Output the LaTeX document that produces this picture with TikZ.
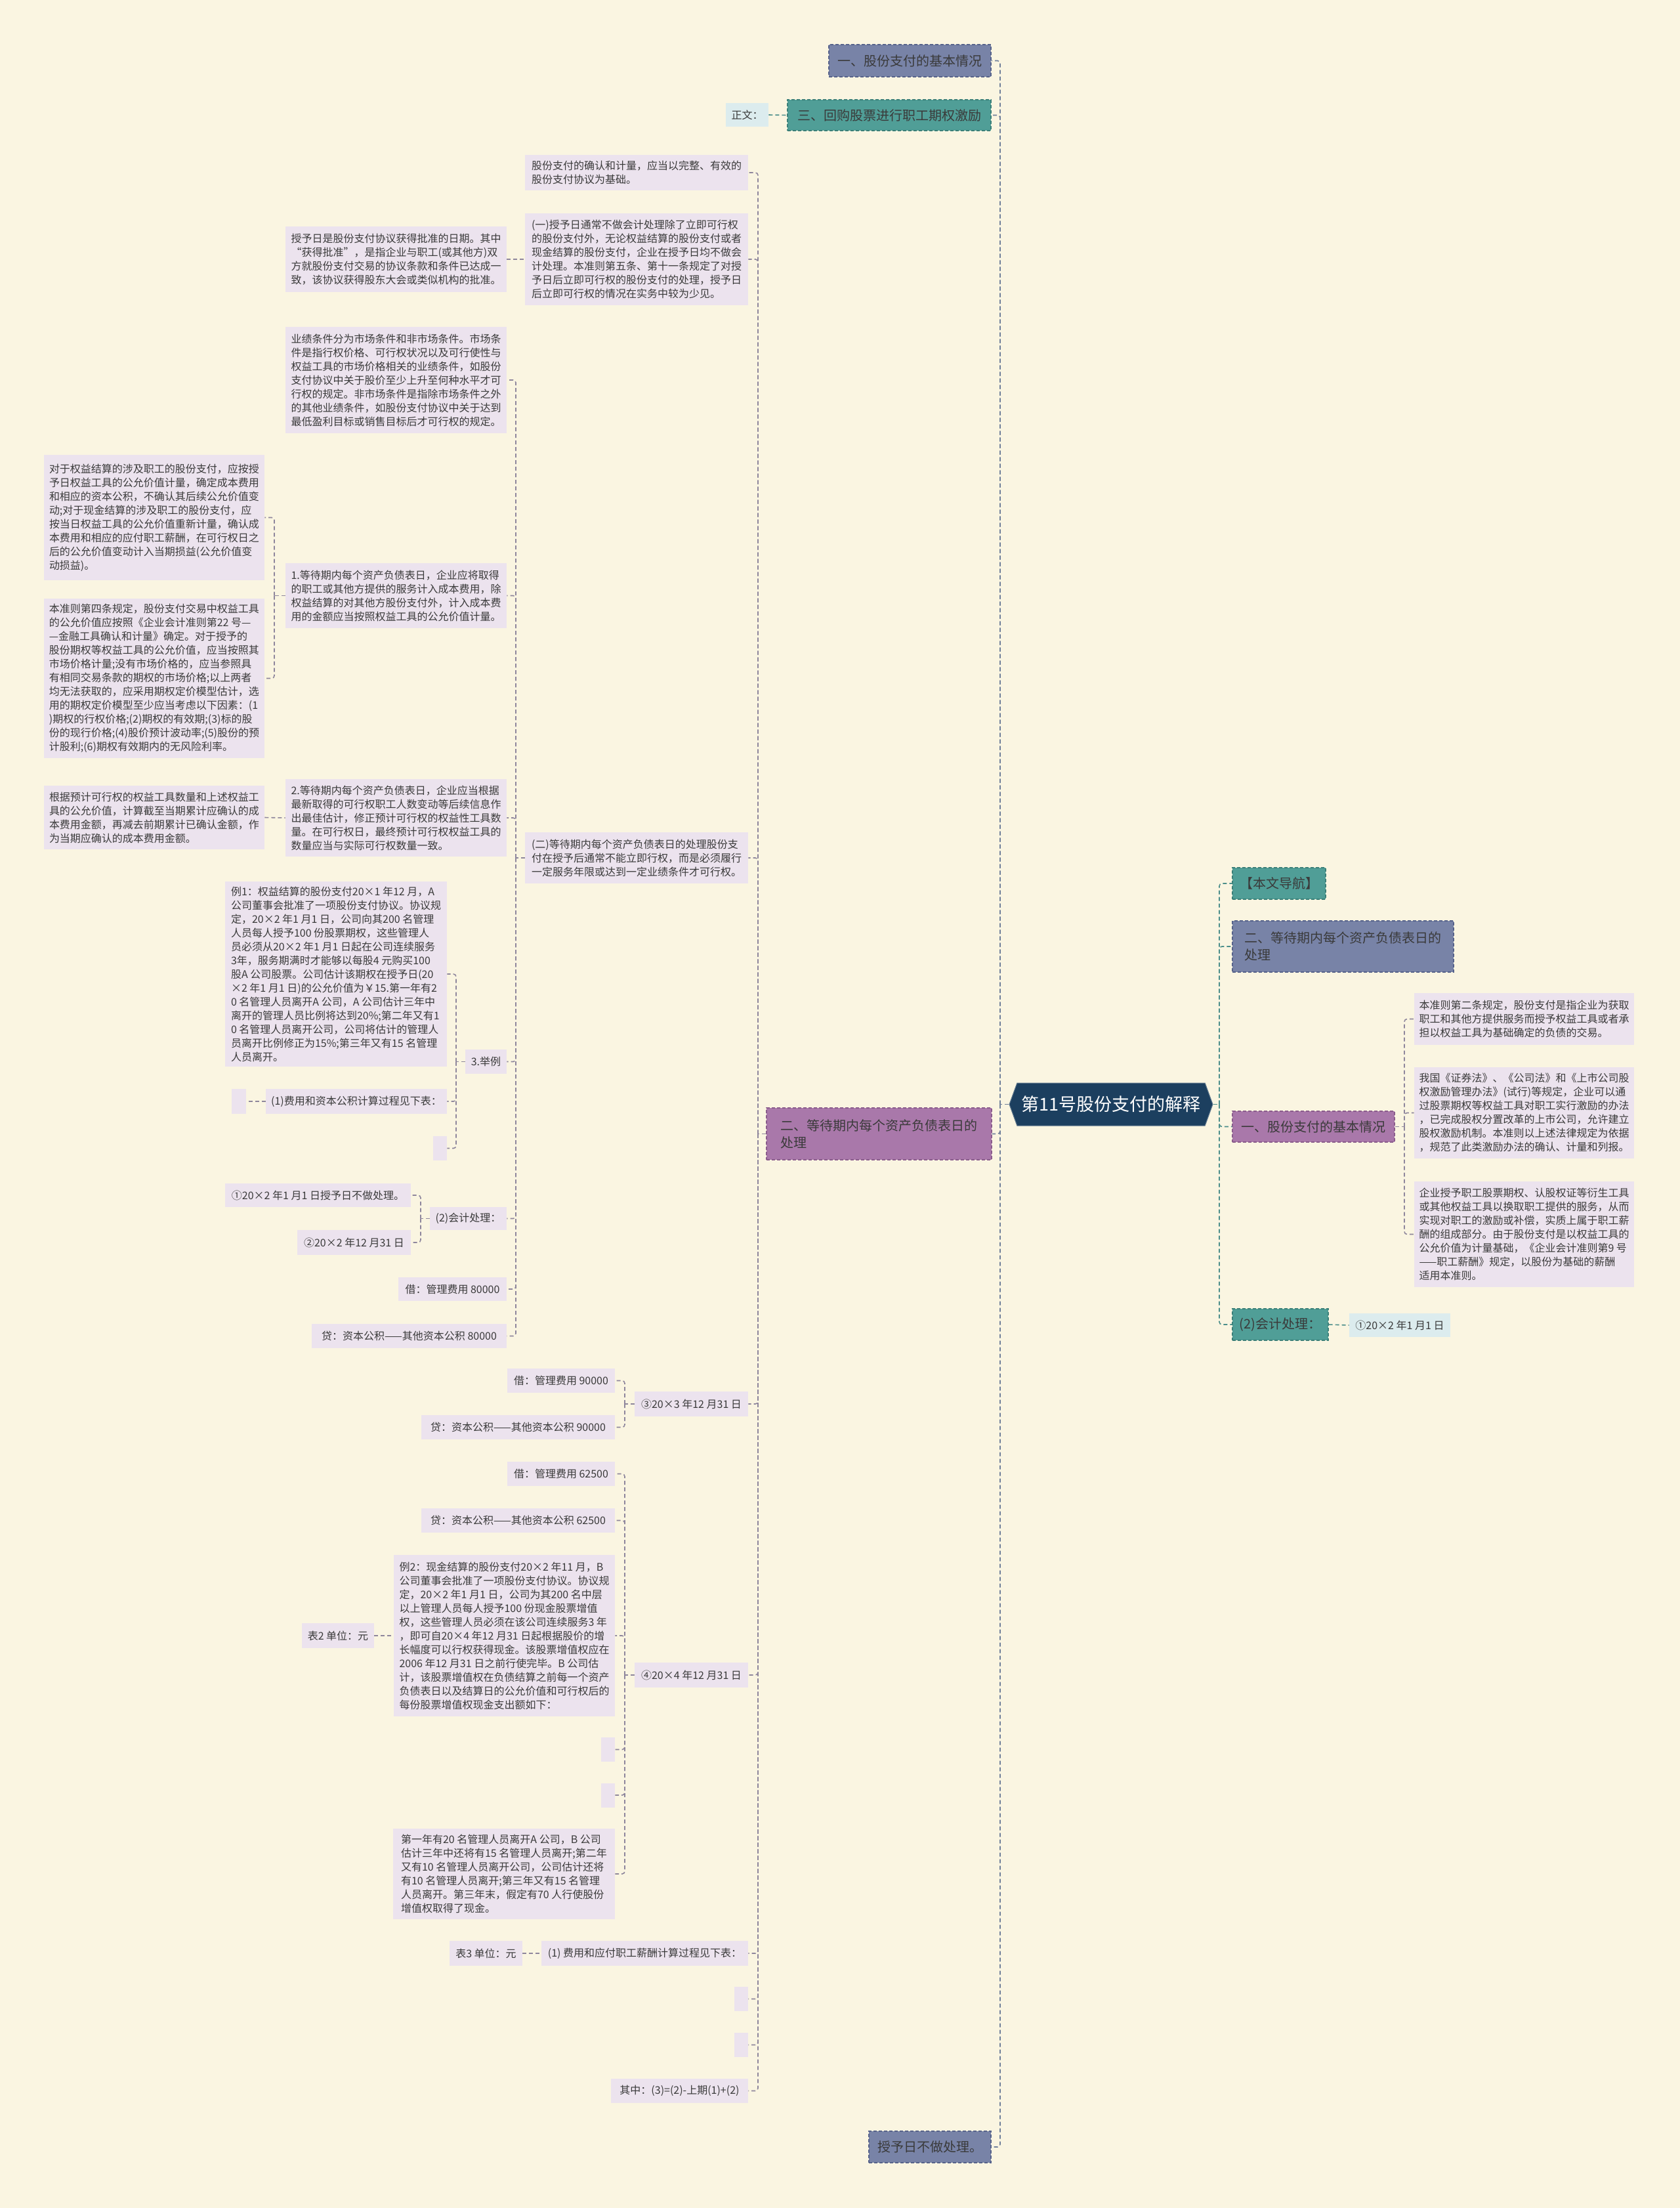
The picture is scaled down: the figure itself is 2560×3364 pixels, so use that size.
\documentclass[tikz,border=0pt]{standalone}
\usepackage{fontspec}
\setmainfont{Noto Sans CJK SC}
\usetikzlibrary{shapes.symbols}
\definecolor{bg}{HTML}{FAF5E1}
\definecolor{lav}{HTML}{ECE3EE}
\definecolor{lblue}{HTML}{DCECEE}
\definecolor{slatec}{HTML}{7883A7}
\definecolor{slated}{HTML}{56628A}
\definecolor{tealc}{HTML}{509E97}
\definecolor{teald}{HTML}{3A7F78}
\definecolor{purpc}{HTML}{A978AA}
\definecolor{purpd}{HTML}{8A5C8C}
\definecolor{rootc}{HTML}{1C3F5F}
\definecolor{txt}{HTML}{3A3A3A}
\definecolor{lineL}{HTML}{6F7F9A}
\definecolor{lineR}{HTML}{4B8E8A}
\definecolor{lineS}{HTML}{8E869C}
\tikzset{
  base/.style={inner sep=0pt, align=left, text=txt, font=\fontsize{8}{10.5}\selectfont},
  lbox/.style={base, fill=lav},
  bbox/.style={base, fill=lblue},
  lvone/.style={base, font=\fontsize{10}{13}\selectfont, draw, line width=0.6pt, dash pattern=on 2.5pt off 1.5pt},
  slatenode/.style={lvone, fill=slatec, draw=slated},
  tealnode/.style={lvone, fill=tealc, draw=teald},
  purpnode/.style={lvone, fill=purpc, draw=purpd},
  con/.style={line width=0.8pt, dash pattern=on 3pt off 2pt, rounded corners=2pt},
  conL/.style={con, draw=lineL},
  conR/.style={con, draw=lineR},
  conS/.style={con, draw=lineS},
}
\begin{document}
\begin{tikzpicture}[x=0.5pt,y=-0.5pt]
\fill[bg] (0,0) rectangle (2560,3364);
\useasboundingbox (0,0) rectangle (2560,3364);

% root
\node[signal, signal to=west and east, signal pointer angle=140, fill=rootc, draw=rootc!70!white, line width=0.5pt,
  minimum width=155pt, minimum height=32.5pt, inner sep=2pt, text=white, font=\fontsize{13.5}{16}\selectfont] (root) at (1693,1682.5) {第11号股份支付的解释};

% level 1 left
\node[slatenode, minimum width=123.5pt, minimum height=24.5pt] (R1) at (1386.5,92.5) {一、股份支付的基本情况};
\node[tealnode, minimum width=155pt, minimum height=23.5pt] (R2) at (1355,175.5) {三、回购股票进行职工期权激励};
\node[bbox, minimum width=32.5pt, minimum height=18pt] (ZW) at (1138.5,175) {正文：};
\node[purpnode, minimum width=171.5pt, minimum height=39.5pt] (P2) at (1339.5,1727.5) {二、等待期内每个资产负债表日的\\处理};
\node[slatenode, minimum width=93pt, minimum height=24pt] (BT) at (1417,3271) {授予日不做处理。};

% level 1 right
\node[tealnode, minimum width=71pt, minimum height=24pt] (NAV) at (1949,1346) {【本文导航】};
\node[slatenode, minimum width=168.5pt, minimum height=39pt] (S2) at (2046.5,1442) {二、等待期内每个资产负债表日的\\处理};
\node[purpnode, minimum width=123.5pt, minimum height=23.5pt] (P1) at (2001.5,1716.5) {一、股份支付的基本情况};
\node[tealnode, minimum width=73pt, minimum height=24pt] (KJ) at (1951,2018) {(2)会计处理：};
\node[bbox, minimum width=77pt, minimum height=18pt] (KJc) at (2133,2019) {①20×2 年1 月1 日};

% right texts
\node[lbox, minimum width=167.5pt, minimum height=39.5pt] (T1) at (2322.5,1552.5) {本准则第二条规定，股份支付是指企业为获取\\职工和其他方提供服务而授予权益工具或者承\\担以权益工具为基础确定的负债的交易。};
\node[lbox, minimum width=167.5pt, minimum height=69.5pt] (T2) at (2322.5,1695.5) {我国《证券法》、《公司法》和《上市公司股\\权激励管理办法》(试行)等规定，企业可以通\\过股票期权等权益工具对职工实行激励的办法\\，已完成股权分置改革的上市公司，允许建立\\股权激励机制。本准则以上述法律规定为依据\\，规范了此类激励办法的确认、计量和列报。};
\node[lbox, minimum width=167.5pt, minimum height=80.5pt] (T3) at (2322.5,1880.5) {企业授予职工股票期权、认股权证等衍生工具\\或其他权益工具以换取职工提供的服务，从而\\实现对职工的激励或补偿，实质上属于职工薪\\酬的组成部分。由于股份支付是以权益工具的\\公允价值为计量基础，《企业会计准则第9 号\\——职工薪酬》规定，以股份为基础的薪酬\\适用本准则。};

% level 2 under P2
\node[lbox, minimum width=170pt, minimum height=27pt] (A1) at (970,263) {股份支付的确认和计量，应当以完整、有效的\\股份支付协议为基础。};
\node[lbox, minimum width=170pt, minimum height=70pt] (A2) at (970,395) {(一)授予日通常不做会计处理除了立即可行权\\的股份支付外，无论权益结算的股份支付或者\\现金结算的股份支付，企业在授予日均不做会\\计处理。本准则第五条、第十一条规定了对授\\予日后立即可行权的股份支付的处理，授予日\\后立即可行权的情况在实务中较为少见。};
\node[lbox, minimum width=168.5pt, minimum height=50pt] (A2c) at (603.5,395) {授予日是股份支付协议获得批准的日期。其中\\“获得批准”，是指企业与职工(或其他方)双\\方就股份支付交易的协议条款和条件已达成一\\致，该协议获得股东大会或类似机构的批准。};
\node[lbox, minimum width=170pt, minimum height=39pt] (A3) at (970,1307) {(二)等待期内每个资产负债表日的处理股份支\\付在授予后通常不能立即行权，而是必须履行\\一定服务年限或达到一定业绩条件才可行权。};

\node[lbox, minimum width=168.5pt, minimum height=81pt] (B1) at (603.5,579) {业绩条件分为市场条件和非市场条件。市场条\\件是指行权价格、可行权状况以及可行使性与\\权益工具的市场价格相关的业绩条件，如股份\\支付协议中关于股价至少上升至何种水平才可\\行权的规定。非市场条件是指除市场条件之外\\的其他业绩条件，如股份支付协议中关于达到\\最低盈利目标或销售目标后才可行权的规定。};
\node[lbox, minimum width=168.5pt, minimum height=49.5pt] (B2) at (603.5,907.5) {1.等待期内每个资产负债表日，企业应将取得\\的职工或其他方提供的服务计入成本费用，除\\权益结算的对其他方股份支付外，计入成本费\\用的金额应当按照权益工具的公允价值计量。};
\node[lbox, minimum width=168pt, minimum height=95.5pt] (C1) at (235,788.5) {对于权益结算的涉及职工的股份支付，应按授\\予日权益工具的公允价值计量，确定成本费用\\和相应的资本公积，不确认其后续公允价值变\\动;对于现金结算的涉及职工的股份支付，应\\按当日权益工具的公允价值重新计量，确认成\\本费用和相应的应付职工薪酬，在可行权日之\\后的公允价值变动计入当期损益(公允价值变\\动损益)。};
\node[lbox, minimum width=168pt, minimum height=121.5pt] (C2) at (235,1033.5) {本准则第四条规定，股份支付交易中权益工具\\的公允价值应按照《企业会计准则第22 号—\\—金融工具确认和计量》确定。对于授予的\\股份期权等权益工具的公允价值，应当按照其\\市场价格计量;没有市场价格的，应当参照具\\有相同交易条款的期权的市场价格;以上两者\\均无法获取的，应采用期权定价模型估计，选\\用的期权定价模型至少应当考虑以下因素：(1\\)期权的行权价格;(2)期权的有效期;(3)标的股\\份的现行价格;(4)股价预计波动率;(5)股份的预\\计股利;(6)期权有效期内的无风险利率。};
\node[lbox, minimum width=168.5pt, minimum height=59pt] (B3) at (603.5,1246) {2.等待期内每个资产负债表日，企业应当根据\\最新取得的可行权职工人数变动等后续信息作\\出最佳估计，修正预计可行权的权益性工具数\\量。在可行权日，最终预计可行权权益工具的\\数量应当与实际可行权数量一致。};
\node[lbox, minimum width=168pt, minimum height=48.5pt] (C3) at (235,1245.5) {根据预计可行权的权益工具数量和上述权益工\\具的公允价值，计算截至当期累计应确认的成\\本费用金额，再减去前期累计已确认金额，作\\为当期应确认的成本费用金额。};
\node[lbox, minimum width=31.5pt, minimum height=18.5pt] (B4) at (740.5,1617.5) {3.举例};
\node[lbox, minimum width=169pt, minimum height=141pt] (D1) at (512,1484) {例1：权益结算的股份支付20×1 年12 月，A\\公司董事会批准了一项股份支付协议。协议规\\定，20×2 年1 月1 日，公司向其200 名管理\\人员每人授予100 份股票期权，这些管理人\\员必须从20×2 年1 月1 日起在公司连续服务\\3年，服务期满时才能够以每股4 元购买100\\股A 公司股票。公司估计该期权在授予日(20\\×2 年1 月1 日)的公允价值为￥15.第一年有2\\0 名管理人员离开A 公司，A 公司估计三年中\\离开的管理人员比例将达到20\%;第二年又有1\\0 名管理人员离开公司，公司将估计的管理人\\员离开比例修正为15\%;第三年又有15 名管理\\人员离开。};
\node[lbox, minimum width=138pt, minimum height=19pt] (D2) at (543,1678) {(1)费用和资本公积计算过程见下表：};
\node[lbox, minimum width=11pt, minimum height=19pt] (D2e) at (364,1678) {};
\node[lbox, minimum width=10.5pt, minimum height=18.5pt] (D3) at (670.5,1749.5) {};
\node[lbox, minimum width=58.5pt, minimum height=17.5pt] (B5) at (713.5,1856.5) {(2)会计处理：};
\node[lbox, minimum width=141.5pt, minimum height=18pt] (E1) at (484.5,1821) {①20×2 年1 月1 日授予日不做处理。};
\node[lbox, minimum width=86.5pt, minimum height=19pt] (E2) at (539.5,1893) {②20×2 年12 月31 日};
\node[lbox, minimum width=82.5pt, minimum height=18pt] (B6) at (689.5,1964) {借：管理费用 80000};
\node[lbox, minimum width=148.5pt, minimum height=18.5pt] (B7) at (623.5,2035.5) {贷：资本公积——其他资本公积 80000};

\node[lbox, minimum width=86.5pt, minimum height=19pt] (A4) at (1053.5,2139) {③20×3 年12 月31 日};
\node[lbox, minimum width=82pt, minimum height=18.5pt] (F1) at (855,2103.5) {借：管理费用 90000};
\node[lbox, minimum width=147.5pt, minimum height=18.5pt] (F2) at (789.5,2174.5) {贷：资本公积——其他资本公积 90000};

\node[lbox, minimum width=86.5pt, minimum height=19pt] (A5) at (1053.5,2552) {④20×4 年12 月31 日};
\node[lbox, minimum width=82pt, minimum height=18.5pt] (G1) at (855,2245.5) {借：管理费用 62500};
\node[lbox, minimum width=147.5pt, minimum height=18.5pt] (G2) at (789.5,2316.5) {贷：资本公积——其他资本公积 62500};
\node[lbox, minimum width=168.5pt, minimum height=123pt] (G3) at (768.5,2492) {例2：现金结算的股份支付20×2 年11 月，B\\公司董事会批准了一项股份支付协议。协议规\\定，20×2 年1 月1 日，公司为其200 名中层\\以上管理人员每人授予100 份现金股票增值\\权，这些管理人员必须在该公司连续服务3 年\\，即可自20×4 年12 月31 日起根据股价的增\\长幅度可以行权获得现金。该股票增值权应在\\2006 年12 月31 日之前行使完毕。B 公司估\\计，该股票增值权在负债结算之前每一个资产\\负债表日以及结算日的公允价值和可行权后的\\每份股票增值权现金支出额如下：};
\node[lbox, minimum width=55pt, minimum height=19pt] (G3c) at (515,2492) {表2 单位：元};
\node[lbox, minimum width=10.5pt, minimum height=18.5pt] (G4) at (926.5,2665.5) {};
\node[lbox, minimum width=10.5pt, minimum height=18.5pt] (G5) at (926.5,2735) {};
\node[lbox, minimum width=169pt, minimum height=69pt] (G6) at (768,2855) {第一年有20 名管理人员离开A 公司，B 公司\\估计三年中还将有15 名管理人员离开;第二年\\又有10 名管理人员离开公司，公司估计还将\\有10 名管理人员离开;第三年又有15 名管理\\人员离开。第三年末，假定有70 人行使股份\\增值权取得了现金。};

\node[lbox, minimum width=157.5pt, minimum height=19pt] (A6) at (982.5,2976) {(1) 费用和应付职工薪酬计算过程见下表：};
\node[lbox, minimum width=55.5pt, minimum height=19pt] (A6c) at (740.5,2976) {表3 单位：元};
\node[lbox, minimum width=10.5pt, minimum height=18.5pt] (A7) at (1129.5,3045.5) {};
\node[lbox, minimum width=10.5pt, minimum height=18.5pt] (A8) at (1129.5,3115.5) {};
\node[lbox, minimum width=104.5pt, minimum height=18.5pt] (A9) at (1035.5,3185.5) {其中：(3)=(2)-上期(1)+(2)};

% junction coordinates
\coordinate (rl) at (1524,1682.5);
\coordinate (rr) at (1858,1682.5);
\coordinate (p1s) at (2140,1716.5);
\coordinate (p2s) at (1155,1727.5);
\coordinate (a3s) at (786,1307);
\coordinate (b2s) at (418,907.5);
\coordinate (b4s) at (695,1617.5);
\coordinate (b5s) at (641,1856.5);
\coordinate (a4s) at (952,2139);
\coordinate (a5s) at (952,2552);

% root connectors
\draw[conL] (root.west) -- (rl);
\foreach \n in {R1,R2,P2,BT} \draw[conL] (rl) |- (\n.east);
\draw[conR] (root.east) -- (rr);
\foreach \n in {NAV,S2,P1,KJ} \draw[conR] (rr) |- (\n.west);
\draw[conR] (ZW.east) -- (R2.west);
\draw[conR] (KJ.east) -- (KJc.west);

% P1 subtree
\draw[conS] (P1.east) -- (p1s);
\foreach \n in {T1,T2,T3} \draw[conS] (p1s) |- (\n.west);

% P2 subtree
\draw[conS] (P2.west) -- (p2s);
\foreach \n in {A1,A2,A3,A4,A5,A6,A7,A8,A9} \draw[conS] (p2s) |- (\n.east);
\draw[conS] (A2c.east) -- (A2.west);
\draw[conS] (A6c.east) -- (A6.west);

\draw[conS] (A3.west) -- (a3s);
\foreach \n in {B1,B2,B3,B4,B5,B6,B7} \draw[conS] (a3s) |- (\n.east);
\draw[conS] (B2.west) -- (b2s);
\foreach \n in {C1,C2} \draw[conS] (b2s) |- (\n.east);
\draw[conS] (C3.east) -- (B3.west);
\draw[conS] (B4.west) -- (b4s);
\foreach \n in {D1,D2,D3} \draw[conS] (b4s) |- (\n.east);
\draw[conS] (D2.west) -- (D2e.east);
\draw[conS] (B5.west) -- (b5s);
\foreach \n in {E1,E2} \draw[conS] (b5s) |- (\n.east);

\draw[conS] (A4.west) -- (a4s);
\foreach \n in {F1,F2} \draw[conS] (a4s) |- (\n.east);
\draw[conS] (A5.west) -- (a5s);
\foreach \n in {G1,G2,G3,G4,G5,G6} \draw[conS] (a5s) |- (\n.east);
\draw[conS] (G3c.east) -- (G3.west);
\end{tikzpicture}
\end{document}
